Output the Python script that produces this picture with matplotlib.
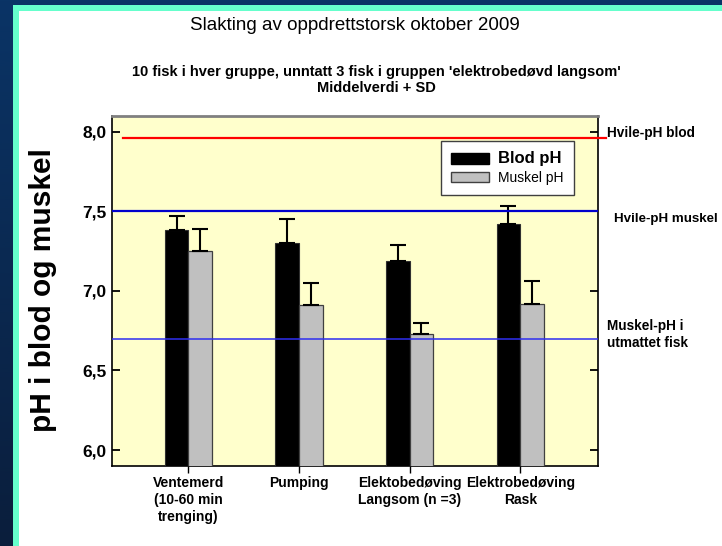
import numpy as np
import matplotlib
matplotlib.use("Agg")
import matplotlib.pyplot as plt
from matplotlib.patches import Rectangle, Patch
from matplotlib.ticker import FuncFormatter, FixedLocator

plt.rcParams['font.family'] = ['Liberation Sans', 'DejaVu Sans']

categories = ["Ventemerd\n(10-60 min\ntrenging)", "Pumping",
              "Elektobedøving\nLangsom (n =3)", "Elektrobedøving\nRask"]
blod_mean = [7.38, 7.30, 7.19, 7.42]
blod_sd = [0.09, 0.15, 0.10, 0.11]
muskel_mean = [7.25, 6.91, 6.73, 6.92]
muskel_sd = [0.14, 0.14, 0.07, 0.14]
yticks = [6.0, 6.5, 7.0, 7.5, 8.0]
hvile_blod = 7.96
hvile_muskel = 7.50
utmattet = 6.70

W, H = 722, 546
fig = plt.figure(figsize=(W / 100, H / 100), dpi=100)

# background
bg = fig.add_axes([0, 0, 1, 1], zorder=-10)
grad = np.linspace(0, 1, 256).reshape(-1, 1)
top = np.array([10, 52, 102]) / 255
bot = np.array([10, 30, 60]) / 255
img = top[None, None, :] * (1 - grad[:, :, None]) + bot[None, None, :] * grad[:, :, None]
bg.imshow(img, aspect='auto', extent=[0, 1, 0, 1], origin='upper')
bg.add_patch(Rectangle((13.3 / W, 0), 1, 1 - 4.7 / H, color='#66FFCC', lw=0))
bg.add_patch(Rectangle((19.3 / W, 0), 1, 1 - 10.7 / H, color='white', lw=0))
bg.set_xlim(0, 1)
bg.set_ylim(0, 1)
bg.axis('off')

ax = fig.add_axes([111.7 / W, 1 - 466 / H, (597.7 - 111.7) / W, (466 - 115.7) / H])
ax.set_facecolor('#FFFFCC')

x = np.arange(len(categories))
bw = 0.214
ax.bar(x - bw, blod_mean, width=bw, align='edge', color='black',
       edgecolor='#303030', linewidth=0.8, zorder=3)
ax.bar(x, muskel_mean, width=bw, align='edge', color='#C0C0C0',
       edgecolor='#404040', linewidth=0.9, zorder=3)
ax.errorbar(x - bw / 2, blod_mean, yerr=[np.zeros(4), blod_sd], fmt='none',
            ecolor='black', elinewidth=1.5, capsize=5.6, capthick=1.5, zorder=4)
ax.errorbar(x + bw / 2, muskel_mean, yerr=[np.zeros(4), muskel_sd], fmt='none',
            ecolor='black', elinewidth=1.5, capsize=5.6, capthick=1.5, zorder=4)

ax.set_xlim(-0.693, 3.70)
ax.set_ylim(5.9, 8.1)

ax.axhline(hvile_muskel, color='#0000CC', lw=1.6, zorder=5)
ax.axhline(utmattet, color='#2E2EF0', lw=1.1, zorder=5)
ax.plot([-0.593, 3.777], [hvile_blod, hvile_blod], color='#FF0000', lw=1.6,
        clip_on=False, zorder=5)

ax.yaxis.set_major_locator(FixedLocator(yticks))
ax.yaxis.set_major_formatter(FuncFormatter(lambda v, p: f"{v:.1f}".replace('.', ',')))
ax.tick_params(axis='y', direction='in', length=6, width=1.3, left=True, right=True,
               labelsize=12.5, pad=4)
for lab in ax.get_yticklabels():
    lab.set_fontweight('bold')
ax.set_xticks(x)
ax.set_xticklabels(categories, fontsize=10, fontweight='bold', linespacing=1.3)
ax.tick_params(axis='x', direction='out', length=5, width=1.0, pad=2)

for s in ['left', 'bottom', 'right']:
    ax.spines[s].set_color('black')
    ax.spines[s].set_linewidth(1.2)
ax.spines['top'].set_color('#808080')
ax.spines['top'].set_linewidth(2)

leg = ax.legend(handles=[Patch(facecolor='black', edgecolor='black', label='Blod pH'),
                         Patch(facecolor='#C0C0C0', edgecolor='#404040', label='Muskel pH')],
                loc='upper left', bbox_to_anchor=((440.7 - 111.7) / 486, (466 - 140.7) / 350.3),
                borderaxespad=0, fancybox=False, framealpha=1, edgecolor='#404040',
                fontsize=10, handlelength=2.75, handleheight=0.8, handletextpad=0.65,
                borderpad=0.75, labelspacing=0.35)
leg.get_frame().set_linewidth(1.0)
t0, t1 = leg.get_texts()
t0.set_fontweight('bold')
t0.set_fontsize(12)
t1.set_fontsize(10)

ax.text(1.019, 7.99, "Hvile-pH blod", transform=ax.get_yaxis_transform(),
        fontsize=9.8, fontweight='bold', va='center', ha='left')
ax.text(1.034, 7.45, "Hvile-pH muskel", transform=ax.get_yaxis_transform(),
        fontsize=9.6, fontweight='bold', va='center', ha='left')
ax.text(1.019, 6.724, "Muskel-pH i\nutmattet fisk", transform=ax.get_yaxis_transform(),
        fontsize=9.8, fontweight='bold', va='center', ha='left', linespacing=1.3)

fig.text(355 / W, 1 - 26 / H, "Slakting av oppdrettstorsk oktober 2009",
         fontsize=13.5, ha='center', va='center')
fig.text(376 / W, 1 - 80 / H,
         "10 fisk i hver gruppe, unntatt 3 fisk i gruppen 'elektrobedøvd langsom'\nMiddelverdi + SD",
         fontsize=10.5, fontweight='bold', ha='center', va='center', linespacing=1.15)
fig.text(43 / W, 1 - 290 / H, "pH i blod og muskel", fontsize=21.5, fontweight='bold',
         rotation=90, ha='center', va='center')

fig.savefig("out.png", dpi=100)
